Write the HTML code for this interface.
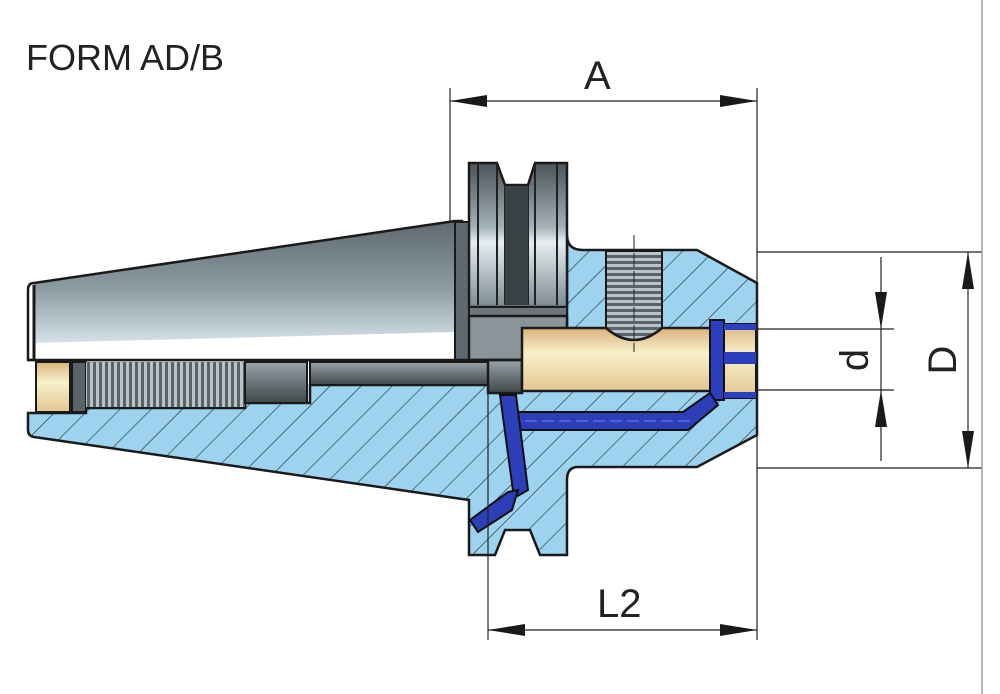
<!DOCTYPE html>
<html><head><meta charset="utf-8"><style>body{margin:0;background:#fff}svg{display:block}</style></head><body>
<svg width="1000" height="694" viewBox="0 0 1000 694" xmlns="http://www.w3.org/2000/svg">
<defs>
<pattern id="h" width="22" height="22" patternUnits="userSpaceOnUse" patternTransform="rotate(45)">
<rect width="22" height="22" fill="#9dd3ef"/><line x1="0" y1="0" x2="0" y2="22" stroke="#1a1a1a" stroke-width="1.1"/></pattern>
<linearGradient id="tp" x1="0" y1="0" x2="0" y2="1"><stop offset="0" stop-color="#5f6a70"/><stop offset="0.55" stop-color="#8c9aa2"/><stop offset="1" stop-color="#d5e1e8"/></linearGradient>
<linearGradient id="fl" x1="0" y1="0" x2="0" y2="1"><stop offset="0" stop-color="#4a5358"/><stop offset="0.45" stop-color="#a5b3ba"/><stop offset="0.55" stop-color="#e6eef2"/><stop offset="1" stop-color="#7d8b92"/></linearGradient>
<linearGradient id="yl" x1="0" y1="0" x2="0" y2="1"><stop offset="0" stop-color="#d9b27a"/><stop offset="0.4" stop-color="#f7f1cc"/><stop offset="1" stop-color="#e4c692"/></linearGradient>
<linearGradient id="gr" x1="0" y1="0" x2="0" y2="1"><stop offset="0" stop-color="#9aa3a8"/><stop offset="1" stop-color="#3f474b"/></linearGradient>
<pattern id="th" width="6" height="10" patternUnits="userSpaceOnUse"><rect width="6" height="10" fill="#5a6468"/><rect width="3" height="10" fill="#b9c4ca"/></pattern>
<pattern id="tv" width="10" height="6" patternUnits="userSpaceOnUse"><rect width="10" height="6" fill="#5a6468"/><rect width="10" height="3" fill="#b9c4ca"/></pattern>
</defs>
<text x="26" y="70" font-family="Liberation Sans, sans-serif" font-size="36" fill="#222">FORM AD/B</text>
<!-- hatched body -->
<path d="M567,235 Q567,250 583,250 L697,250 L757,283 L757,435 L697,467 L578,467 Q567,467 567,480 L567,555 L540,555 L530,530 L505,530 L495,555 L469,555 L469,500 L455,498 L34,437 Q28,436 28,430 L28,413 L86,413 L86,408 L245,408 L245,403 L310,403 L310,385 L485,385 L485,360 L567,360 Z" fill="url(#h)" stroke="#1a1a1a" stroke-width="2.5"/>
<!-- taper -->
<path d="M34,283 L455,221 L455,332 L34,343 Z" fill="url(#tp)"/>
<path d="M28,290 Q28,283 34,283 L455,221 L462,221 L462,360 L28,360 Z" fill="none" stroke="#1a1a1a" stroke-width="2.5"/>
<rect x="34" y="343" width="421" height="16" fill="#fff"/>
<line x1="34" y1="285" x2="34" y2="359" stroke="#1a1a1a" stroke-width="3"/>
<rect x="455" y="222" width="14" height="138" fill="#5f6a70" stroke="#1a1a1a" stroke-width="2"/>
<!-- flange -->
<path d="M469,163 L497,163 L505,185 L528,185 L535,163 L567,163 L567,307 L469,307 Z" fill="url(#fl)" stroke="#1a1a1a" stroke-width="2.5"/>
<path d="M505,185 L505,305 M528,185 L528,305 M478,163 L478,305 M557,163 L557,305 M497,163 L497,305 M535,163 L535,305" stroke="#222" stroke-width="2"/>
<rect x="505" y="186" width="23" height="119" fill="#394245"/>
<rect x="469" y="307" width="98" height="9" fill="#6c767b" stroke="#1a1a1a" stroke-width="2"/>
<rect x="469" y="316" width="98" height="44" fill="#8a9499" stroke="#1a1a1a" stroke-width="2.5"/>
<!-- screw row -->
<rect x="36" y="362" width="34" height="50" fill="url(#yl)" stroke="#1a1a1a" stroke-width="2"/>
<rect x="72" y="362" width="14" height="50" fill="#5a6468" stroke="#1a1a1a" stroke-width="2"/>
<rect x="86" y="362" width="159" height="45" fill="url(#th)"/>
<rect x="245" y="362" width="62" height="41" fill="url(#gr)" stroke="#1a1a1a" stroke-width="2"/>
<rect x="310" y="362" width="178" height="23" fill="url(#gr)" stroke="#1a1a1a" stroke-width="2"/>
<rect x="488" y="360" width="34" height="33" fill="url(#gr)" stroke="#1a1a1a" stroke-width="2.5"/>
<line x1="28" y1="360" x2="567" y2="360" stroke="#1a1a1a" stroke-width="2.5"/>
<!-- thread hole + bore -->
<rect x="606" y="251" width="56" height="90" fill="url(#tv)" stroke="#1a1a1a" stroke-width="2"/>
<path d="M522,328 L606,328 Q634,352 662,328 L712,328 L712,391 L522,391 Z" fill="url(#yl)" stroke="#1a1a1a" stroke-width="2.5"/>
<line x1="634" y1="235" x2="634" y2="352" stroke="#222" stroke-width="1" stroke-dasharray="14,4"/>
<!-- blue screw -->
<rect x="710" y="320" width="14" height="80" fill="#2c3fbf" stroke="#111" stroke-width="2"/>
<rect x="724" y="324" width="32" height="74" fill="url(#yl)" stroke="#111" stroke-width="2"/>
<rect x="724" y="352" width="32" height="12" fill="#2c3fbf"/>
<rect x="724" y="324" width="32" height="6" fill="#2c3fbf"/>
<rect x="724" y="392" width="32" height="6" fill="#2c3fbf"/>
<!-- coolant channels -->
<path d="M515,412 L683,412 L710,393 L718,405 L688,430 L520,430 Z" fill="#2d3fb8" stroke="#111" stroke-width="2"/>
<path d="M500,395 L516,395 L528,490 L514,498 Z" fill="#2d3fb8" stroke="#111" stroke-width="2"/>
<path d="M470,520 L508,492 L518,490 L512,510 L478,532 Z" fill="#2d3fb8" stroke="#111" stroke-width="2"/>
<line x1="525" y1="421" x2="690" y2="421" stroke="#6f86e8" stroke-width="1" stroke-dasharray="12,5"/>
<!-- dimension lines -->
<g stroke="#222" stroke-width="1.2" fill="none">
<line x1="450" y1="88" x2="450" y2="222"/>
<line x1="757" y1="88" x2="757" y2="640"/>
<line x1="450" y1="101" x2="757" y2="101"/>
<line x1="488" y1="390" x2="488" y2="640"/>
<line x1="488" y1="630" x2="757" y2="630"/>
<line x1="757" y1="252" x2="982" y2="252"/>
<line x1="757" y1="468" x2="982" y2="468"/>
<line x1="757" y1="329" x2="894" y2="329"/>
<line x1="757" y1="390" x2="894" y2="390"/>
<line x1="881" y1="257" x2="881" y2="461"/>
<line x1="968" y1="252" x2="968" y2="468"/>
<line x1="982" y1="0" x2="982" y2="694" stroke="#888"/>
</g>
<g fill="#1a1a1a">
<path d="M450,101 L487,95 L487,107 Z"/><path d="M757,101 L720,95 L720,107 Z"/>
<path d="M488,630 L525,624 L525,636 Z"/><path d="M757,630 L720,624 L720,636 Z"/>
<path d="M881,329 L875,292 L887,292 Z"/><path d="M881,390 L875,427 L887,427 Z"/>
<path d="M968,252 L962,289 L974,289 Z"/><path d="M968,468 L962,431 L974,431 Z"/>
</g>
<g font-family="Liberation Sans, sans-serif" font-size="40" fill="#222">
<text x="584" y="89">A</text>
<text x="597" y="617">L2</text>
<text transform="translate(868,360) rotate(-90)" text-anchor="middle">d</text>
<text transform="translate(956,360) rotate(-90)" text-anchor="middle">D</text>
</g>
</svg>
</body></html>
